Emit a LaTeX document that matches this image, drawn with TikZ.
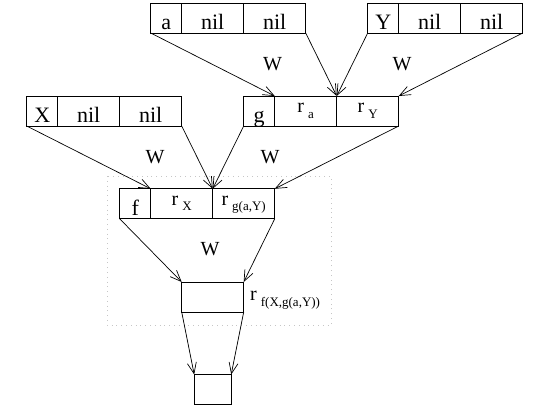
\documentclass[tikz,border=0pt]{standalone}
\usepackage{fontspec}
\setmainfont{Liberation Serif}
\usetikzlibrary{arrows.meta}
\newcommand{\subtxt}[1]{\raisebox{-5.5pt}{\fontsize{13}{14}\selectfont #1}}
\newcommand{\rtxt}[1]{{\fontsize{20}{24}\selectfont r}\hspace{4pt}\subtxt{#1}}
\begin{document}
\begin{tikzpicture}[
	x=1pt, y=-1pt,
	cell/.style = {draw, rectangle, line width=0.8pt, inner sep=0pt, outer sep=0pt,
		minimum height=30pt, text height=26.5pt, text depth=3.5pt,
		font=\fontsize{22}{26}\selectfont},
	small/.style = {cell, minimum width=31pt},
	wide/.style = {cell, minimum width=62pt},
	rcell/.style = {text height=16.5pt, text depth=13.5pt},
	edge/.style = {draw, line width=0.7pt, -{Straight Barb[length=11pt,width=9pt]}},
	wlabel/.style = {font=\fontsize{20}{24}\selectfont, inner sep=0pt},
	]
	\useasboundingbox (0,0) rectangle (546,416);
	% dotted frame
	\draw[gray!45, line width=0.8pt, dash pattern=on 0.8pt off 4pt] (107,176) rectangle (331,325);
	% cells a nil nil
	\node[small] (a1) at (166.2,18) {a};
	\node[wide] (a2) at (212.7,18) {nil};
	\node[wide] (a3) at (274.7,18) {nil};
	% cells Y nil nil
	\node[small] (y1) at (383.2,18) {Y};
	\node[wide] (y2) at (429.7,18) {nil};
	\node[wide] (y3) at (491.7,18) {nil};
	% cells X nil nil
	\node[small] (x1) at (42.2,111) {X};
	\node[wide] (x2) at (88.7,111) {nil};
	\node[wide] (x3) at (150.7,111) {nil};
	% cells g ra rY
	\node[small] (g1) at (259.2,111) {g};
	\node[wide, rcell] (g2) at (305.7,111) {\rtxt{a}};
	\node[wide, rcell] (g3) at (367.7,111) {\rtxt{Y}};
	% cells f rX rg
	\node[small] (f1) at (135.2,203.8) {f};
	\node[wide, rcell] (f2) at (181.7,203.8) {\rtxt{X}};
	\node[wide, rcell] (f3) at (243.7,203.8) {\rtxt{g(a,Y)}};
	% result and output
	\node[wide] (res) at (212.7,297) {};
	\node[cell, minimum width=37pt] (out) at (212.7,389.5) {};
	\node[wlabel, anchor=base west] (rres) at (250,300.5) {\rtxt{f(X,g(a,Y))}};
	% W labels
	\node[wlabel] (w1) at (272.5,64) {W};
	\node[wlabel] (w2) at (402,64) {W};
	\node[wlabel] (w3) at (155,157) {W};
	\node[wlabel] (w4) at (270,157) {W};
	\node[wlabel] (w5) at (210,249.5) {W};
	% connectors
	\draw[edge] (a1.south west) -- (g2.north west);
	\draw[edge] (a3.south east) -- (g3.north west);
	\draw[edge] (y1.south west) -- (g3.north west);
	\draw[edge] (y3.south east) -- (g3.north east);
	\draw[edge] (x1.south west) -- (f2.north west);
	\draw[edge] (x3.south east) -- (f3.north west);
	\draw[edge] (g1.south west) -- (f3.north west);
	\draw[edge] (g3.south east) -- (f3.north east);
	\draw[edge] (f1.south west) -- (res.north west);
	\draw[edge] (f3.south east) -- (res.north east);
	\draw[edge] (res.south west) -- (out.north west);
	\draw[edge] (res.south east) -- (out.north east);
\end{tikzpicture}
\end{document}
